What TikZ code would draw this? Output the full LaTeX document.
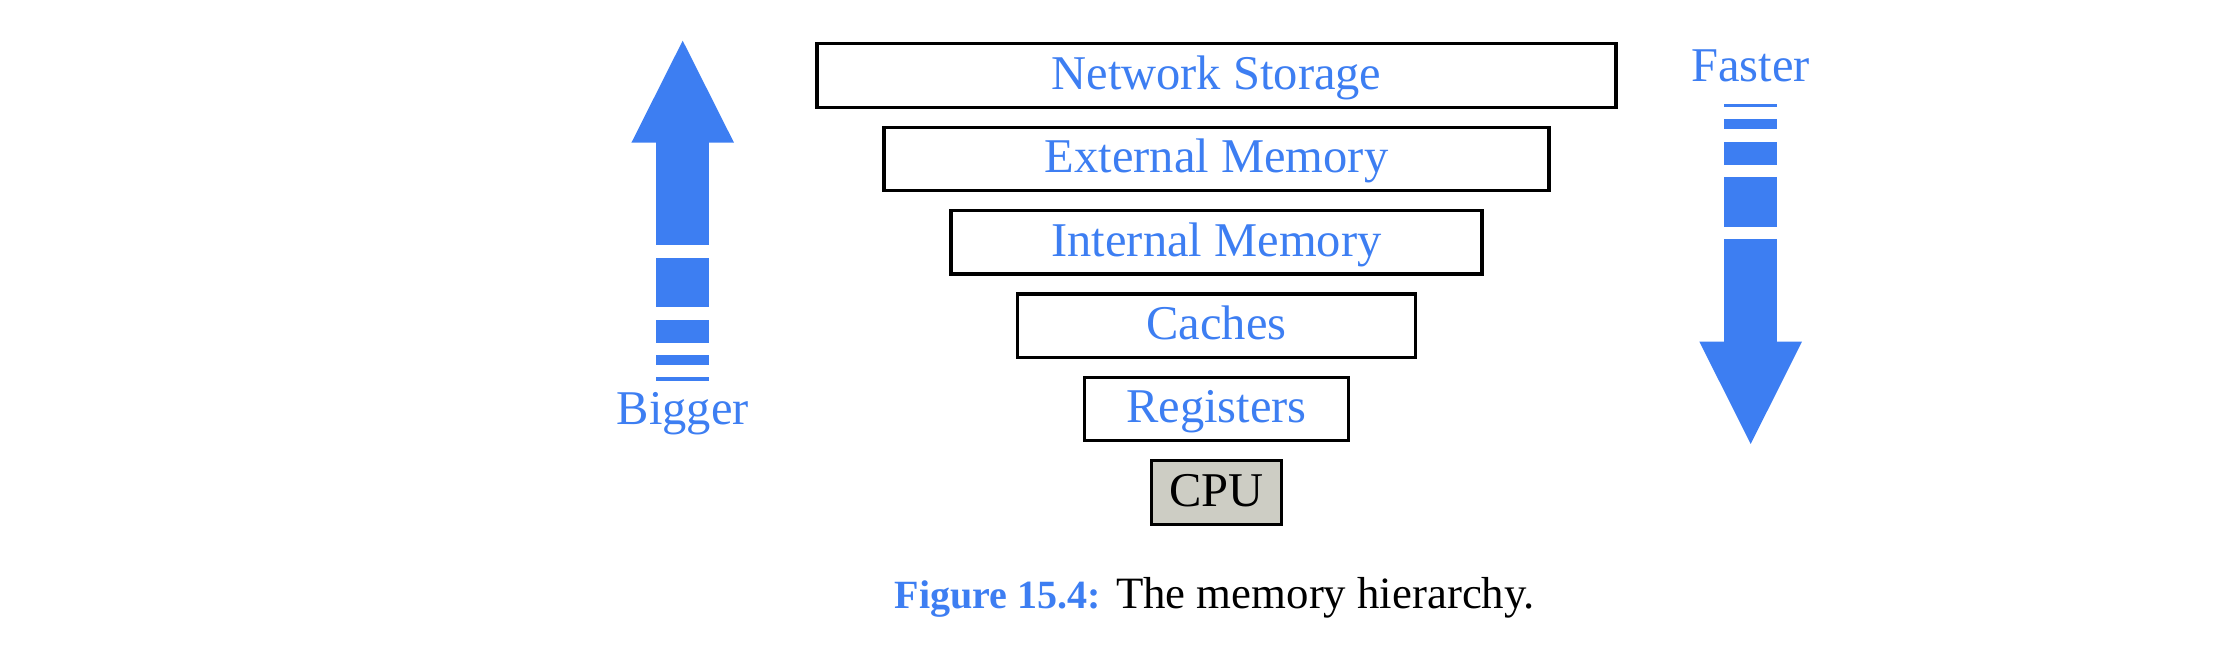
\documentclass[tikz,border=0pt]{standalone}
\usepackage{fontspec}
\setmainfont{Liberation Serif}
\usepackage{tikz}
\definecolor{hierblue}{RGB}{61,126,242}
\definecolor{cpugray}{RGB}{205,205,196}

\begin{document}
\begin{tikzpicture}[
    tier/.style={draw=black, line width=0.9pt, minimum height=0.635cm, inner sep=0pt,
        text=hierblue, font=\fontsize{13.8}{16}\selectfont, text height=7.9pt, text depth=0pt},
    side/.style={text=hierblue, font=\fontsize{13.8}{16}\selectfont, anchor=base},
    band/.style={fill=hierblue}]
                \useasboundingbox (0,0) rectangle (22.24,6.56);

                \node[tier, minimum width=7.99cm] (net) at (12.165, 5.805) {Network Storage};
                \node[tier, minimum width=6.65cm] (ext) at (12.165, 4.971) {External Memory};
                \node[tier, minimum width=5.31cm] (int) at (12.165, 4.137) {Internal Memory};
                \node[tier, minimum width=3.98cm] (cache) at (12.165, 3.303) {Caches};
                \node[tier, minimum width=2.64cm] (reg) at (12.165, 2.469) {Registers};
                \node[tier, minimum width=1.30cm, fill=cpugray, text=black] (cpu) at (12.165, 1.635) {CPU};

                \fill[band] (6.314, 5.133) -- (6.827, 6.153) -- (7.340, 5.133) -- cycle;
                \fill[band] (6.560, 5.140) rectangle (7.094, 4.110);
                \fill[band] (6.560, 3.980) rectangle (7.094, 3.487);
                \fill[band] (6.560, 3.360) rectangle (7.094, 3.133);
                \fill[band] (6.560, 3.007) rectangle (7.094, 2.913);
                \fill[band] (6.560, 2.787) rectangle (7.094, 2.753);
                \node[side] (bigger) at (6.827, 2.31) {Bigger};

                \node[side] (faster) at (17.507, 5.743) {Faster};
                \fill[band] (17.240, 5.520) rectangle (17.774, 5.487);
                \fill[band] (17.240, 5.370) rectangle (17.774, 5.270);
                \fill[band] (17.240, 5.143) rectangle (17.774, 4.913);
                \fill[band] (17.240, 4.793) rectangle (17.774, 4.293);
                \fill[band] (17.240, 4.167) rectangle (17.774, 3.136);
                \fill[band] (16.994, 3.143) -- (17.507, 2.120) -- (18.020, 3.143) -- cycle;

                \node[anchor=base, font=\fontsize{12.75}{15}\selectfont] (caption) at (12.15, 0.47)
                    {\textcolor{hierblue}{\fontsize{11.4}{15}\selectfont\bfseries Figure 15.4:} The memory hierarchy.};
            \end{tikzpicture}
\end{document}
